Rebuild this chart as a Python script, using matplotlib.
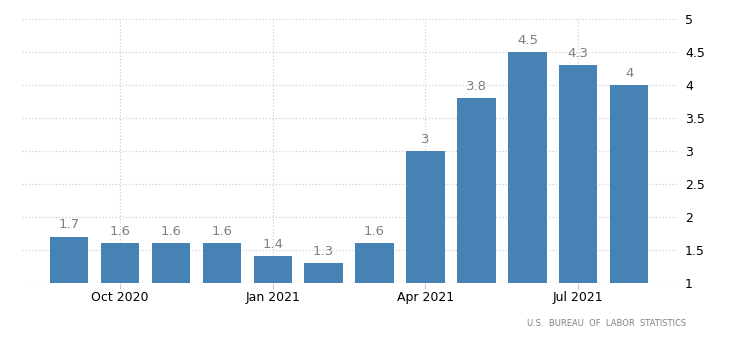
import matplotlib.pyplot as plt
import numpy as np

months = ['Sep 2020', 'Oct 2020', 'Nov 2020', 'Dec 2020', 'Jan 2021', 'Feb 2021',
          'Mar 2021', 'Apr 2021', 'May 2021', 'Jun 2021', 'Jul 2021', 'Aug 2021']
values = [1.7, 1.6, 1.6, 1.6, 1.4, 1.3, 1.6, 3, 3.8, 4.5, 4.3, 4]
tick_idx = [1, 4, 7, 10]

fig = plt.figure(figsize=(7.3, 3.4), dpi=100)
ax = fig.add_axes([0.030, 0.168, 0.897, 0.776])

x = np.arange(len(values))
ax.bar(x, values, width=0.75, bottom=0, color='#4682b4', zorder=2)
for xi, v in zip(x, values):
    ax.text(xi, v + 0.08, f'{v:g}', ha='center', va='bottom', fontsize=9.5, color='#808080')

ax.set_ylim(1, 5)
ax.set_xlim(-0.92, 11.93)
ax.set_yticks([1, 1.5, 2, 2.5, 3, 3.5, 4, 4.5, 5])
ax.set_yticklabels(['1', '1.5', '2', '2.5', '3', '3.5', '4', '4.5', '5'])
ax.yaxis.tick_right()
ax.set_xticks(tick_idx)
ax.set_xticklabels([months[i] for i in tick_idx])
ax.tick_params(axis='y', length=0, labelsize=9, pad=6)
ax.tick_params(axis='x', length=4, color='#cccccc', labelsize=9, pad=2)
ax.grid(True, color='#c8c8c8', linestyle=(0, (1, 2)), linewidth=0.8, zorder=0)
for s in ax.spines.values():
    s.set_visible(False)

fig.text(0.94, 0.05, 'U.S.  BUREAU  OF  LABOR  STATISTICS', ha='right', va='center',
         fontsize=6, color='#808080')

fig.savefig('out.png', dpi=100)
